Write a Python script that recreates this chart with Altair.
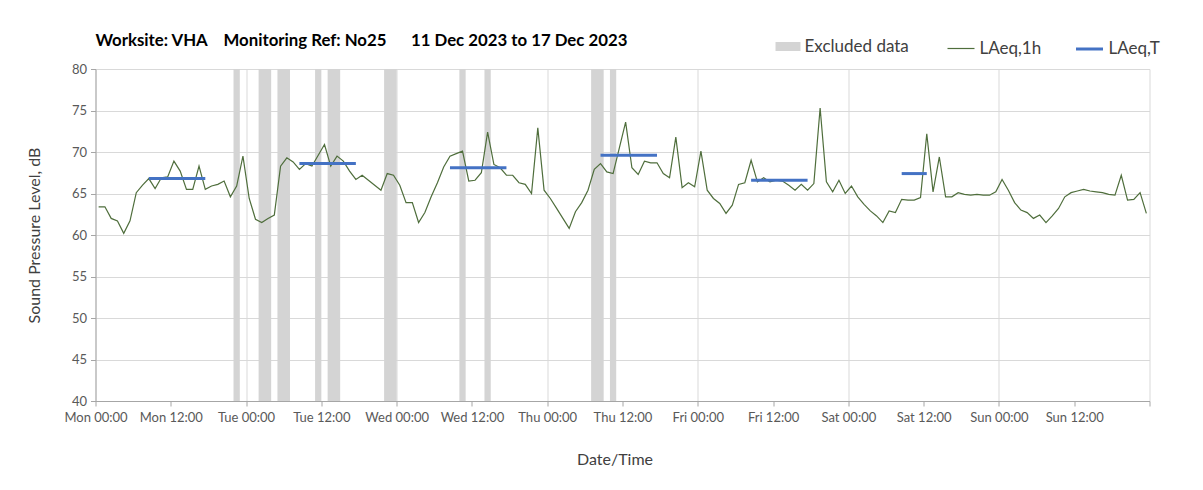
import altair as alt
import pandas as pd

# ---- data ----
# hourly LAeq,1h values, Mon 11 Dec 2023 00:00 .. Sun 17 Dec 2023 23:00 (plotted at mid-hour)
laeq_1h = [
    63.4, 63.4, 62.0, 61.7, 60.2, 61.7, 65.1, 66.0, 66.8, 65.6, 66.9, 67.0,
    68.9, 67.7, 65.5, 65.5, 68.3, 65.5, 65.9, 66.1, 66.5, 64.6, 65.9, 69.5,
    64.4, 61.9, 61.5, 62.0, 62.4, 68.3, 69.3, 68.8, 67.9, 68.6, 68.3, 69.6,
    70.9, 68.3, 69.5, 68.9, 67.7, 66.7, 67.2, 66.6, 66.0, 65.4, 67.4, 67.2,
    66.0, 63.9, 63.9, 61.5, 62.7, 64.6, 66.3, 68.2, 69.5, 69.8, 70.1, 66.5,
    66.6, 67.5, 72.4, 68.5, 68.1, 67.2, 67.2, 66.3, 66.1, 65.0, 72.9, 65.4,
    64.4, 63.2, 62.0, 60.8, 62.8, 63.9, 65.4, 67.9, 68.6, 67.6, 67.4, 70.5,
    73.6, 68.1, 67.3, 68.9, 68.7, 68.7, 67.4, 66.9, 71.8, 65.7, 66.3, 65.8,
    70.1, 65.4, 64.4, 63.8, 62.6, 63.6, 66.1, 66.3, 69.0, 66.4, 66.9, 66.4,
    66.6, 66.5, 66.0, 65.4, 66.1, 65.4, 66.2, 75.3, 66.4, 65.2, 66.6, 65.0,
    65.9, 64.6, 63.7, 62.9, 62.3, 61.5, 62.9, 62.7, 64.3, 64.2, 64.2, 64.5,
    72.2, 65.2, 69.4, 64.6, 64.6, 65.1, 64.9, 64.8, 64.9, 64.8, 64.8, 65.2,
    66.7, 65.4, 63.9, 63.0, 62.7, 62.0, 62.4, 61.5, 62.3, 63.2, 64.6, 65.1,
    65.3, 65.5, 65.3, 65.2, 65.1, 64.9, 64.8, 67.2, 64.2, 64.3, 65.1, 62.6,
]
first_reading = "2023-12-11 00:30"

# excluded periods
excl_start = ["2023-12-11 22:00", "2023-12-12 02:00", "2023-12-12 05:00",
              "2023-12-12 11:00", "2023-12-12 13:00", "2023-12-12 22:00",
              "2023-12-13 10:00", "2023-12-13 14:00", "2023-12-14 07:00",
              "2023-12-14 10:00"]
excl_end = ["2023-12-11 23:00", "2023-12-12 04:00", "2023-12-12 07:00",
            "2023-12-12 12:00", "2023-12-12 15:00", "2023-12-13 00:00",
            "2023-12-13 11:00", "2023-12-13 15:00", "2023-12-14 09:00",
            "2023-12-14 11:00"]

# LAeq,T periods
t_start = ["2023-12-11 08:30", "2023-12-12 08:30", "2023-12-13 08:30",
           "2023-12-14 08:30", "2023-12-15 08:30", "2023-12-16 08:30"]
t_end = ["2023-12-11 17:30", "2023-12-12 17:30", "2023-12-13 17:30",
         "2023-12-14 17:30", "2023-12-15 17:30", "2023-12-16 12:30"]
laeq_t = [66.8, 68.6, 68.1, 69.6, 66.6, 67.4]

NB = "\u00a0"
title_text = ("Worksite: VHA" + NB * 4 + "Monitoring Ref: No25" + NB * 6
              + "11 Dec 2023 to 17 Dec 2023")

# ---- tables ----
times = pd.date_range(first_reading, periods=len(laeq_1h), freq="h")
df_line = pd.DataFrame({"time": times.strftime("%Y-%m-%dT%H:%M:%S"),
                        "level": laeq_1h, "series": "LAeq,1h"})
df_excl = pd.DataFrame({"start": [s.replace(" ", "T") for s in excl_start],
                        "end": [s.replace(" ", "T") for s in excl_end],
                        "series": "Excluded data"})
df_t = pd.DataFrame({"start": [s.replace(" ", "T") for s in t_start],
                     "end": [s.replace(" ", "T") for s in t_end],
                     "level": laeq_t, "series": "LAeq,T"})

FONT = "Lato"
GREEN = "#4f6e3c"
BLUE = "#4472c4"
GREY = "#d4d4d4"
TXT = "#404040"

tick_vals = [alt.DateTime(year=2023, month=12, date=11 + d, hours=h)
             for d in range(7) for h in (0, 12)]
tick_vals.append(alt.DateTime(year=2023, month=12, date=18, hours=0))

x_scale = alt.Scale(domain=[alt.DateTime(year=2023, month=12, date=11, hours=0),
                            alt.DateTime(year=2023, month=12, date=18, hours=0)])
x_axis = alt.Axis(
    title="Date/Time", values=tick_vals,
    labelExpr="date(datum.value) == 18 ? '' : timeFormat(datum.value, '%a %H:%M')",
    grid=True, gridColor="#d9d9d9",
    gridOpacity={"condition": {"test": "hours(datum.value) == 0", "value": 1}, "value": 0},
    domainColor="#a6a6a6", tickColor="#a6a6a6", tickSize=5,
    labelFont=FONT, labelFontSize=13, labelColor="#595959", labelPadding=5,
    labelFlush=False,
    titleFont=FONT, titleFontSize=16, titleFontWeight="normal", titleColor=TXT,
    titlePadding=27, titleX=519, titleAnchor="middle",
)
y_scale = alt.Scale(domain=[40, 80])
y_axis = alt.Axis(
    title="Sound Pressure Level, dB", values=list(range(40, 81, 5)),
    grid=True, gridColor="#d9d9d9",
    domainColor="#a6a6a6", tickColor="#a6a6a6", tickSize=5,
    labelFont=FONT, labelFontSize=13, labelColor="#595959", labelPadding=4,
    titleFont=FONT, titleFontSize=16, titleFontWeight="normal", titleColor=TXT,
    titlePadding=29,
)

def leg(x, y, stype, size, sw):
    return alt.Legend(orient="none", legendX=x, legendY=y, title=None,
                      symbolType=stype, symbolSize=size, symbolStrokeWidth=sw,
                      labelFont=FONT, labelFontSize=17, labelColor=TXT,
                      labelOffset=4, padding=0)

bands = alt.Chart(df_excl).mark_rect().encode(
    x=alt.X("start:T", scale=x_scale, axis=x_axis),
    x2="end:T",
    color=alt.Color("series:N", scale=alt.Scale(domain=["Excluded data"], range=[GREY]),
                    legend=leg(680, -35, "M-1,-0.36H1V0.36H-1Z", 625, 0)),
)

line = alt.Chart(df_line).mark_line(strokeWidth=1.2).encode(
    x=alt.X("time:T", scale=x_scale, axis=x_axis),
    y=alt.Y("level:Q", scale=y_scale, axis=y_axis),
    color=alt.Color("series:N", scale=alt.Scale(domain=["LAeq,1h"], range=[GREEN]),
                    legend=leg(851, -35, "stroke", 729, 1.2)),
)

seg = alt.Chart(df_t).mark_rule(strokeWidth=3).encode(
    x=alt.X("start:T", scale=x_scale, axis=x_axis),
    x2="end:T",
    y=alt.Y("level:Q", scale=y_scale, axis=y_axis),
    color=alt.Color("series:N", scale=alt.Scale(domain=["LAeq,T"], range=[BLUE]),
                    legend=leg(979, -35, "stroke", 729, 3)),
)

chart = alt.layer(bands, line, seg).resolve_scale(color="independent").properties(
    width=1054, height=332,
    title=alt.TitleParams(title_text, anchor="start", frame="group", font=FONT,
                          fontSize=16.8, fontWeight="bold", color="#000000",
                          offset=18, dy=34),
    autosize="none",
    padding={"left": 87.5, "top": 61, "right": 40, "bottom": 80},
).configure_view(stroke=None)

chart.save("out.html", embed_options={"renderer": "svg", "actions": False})
